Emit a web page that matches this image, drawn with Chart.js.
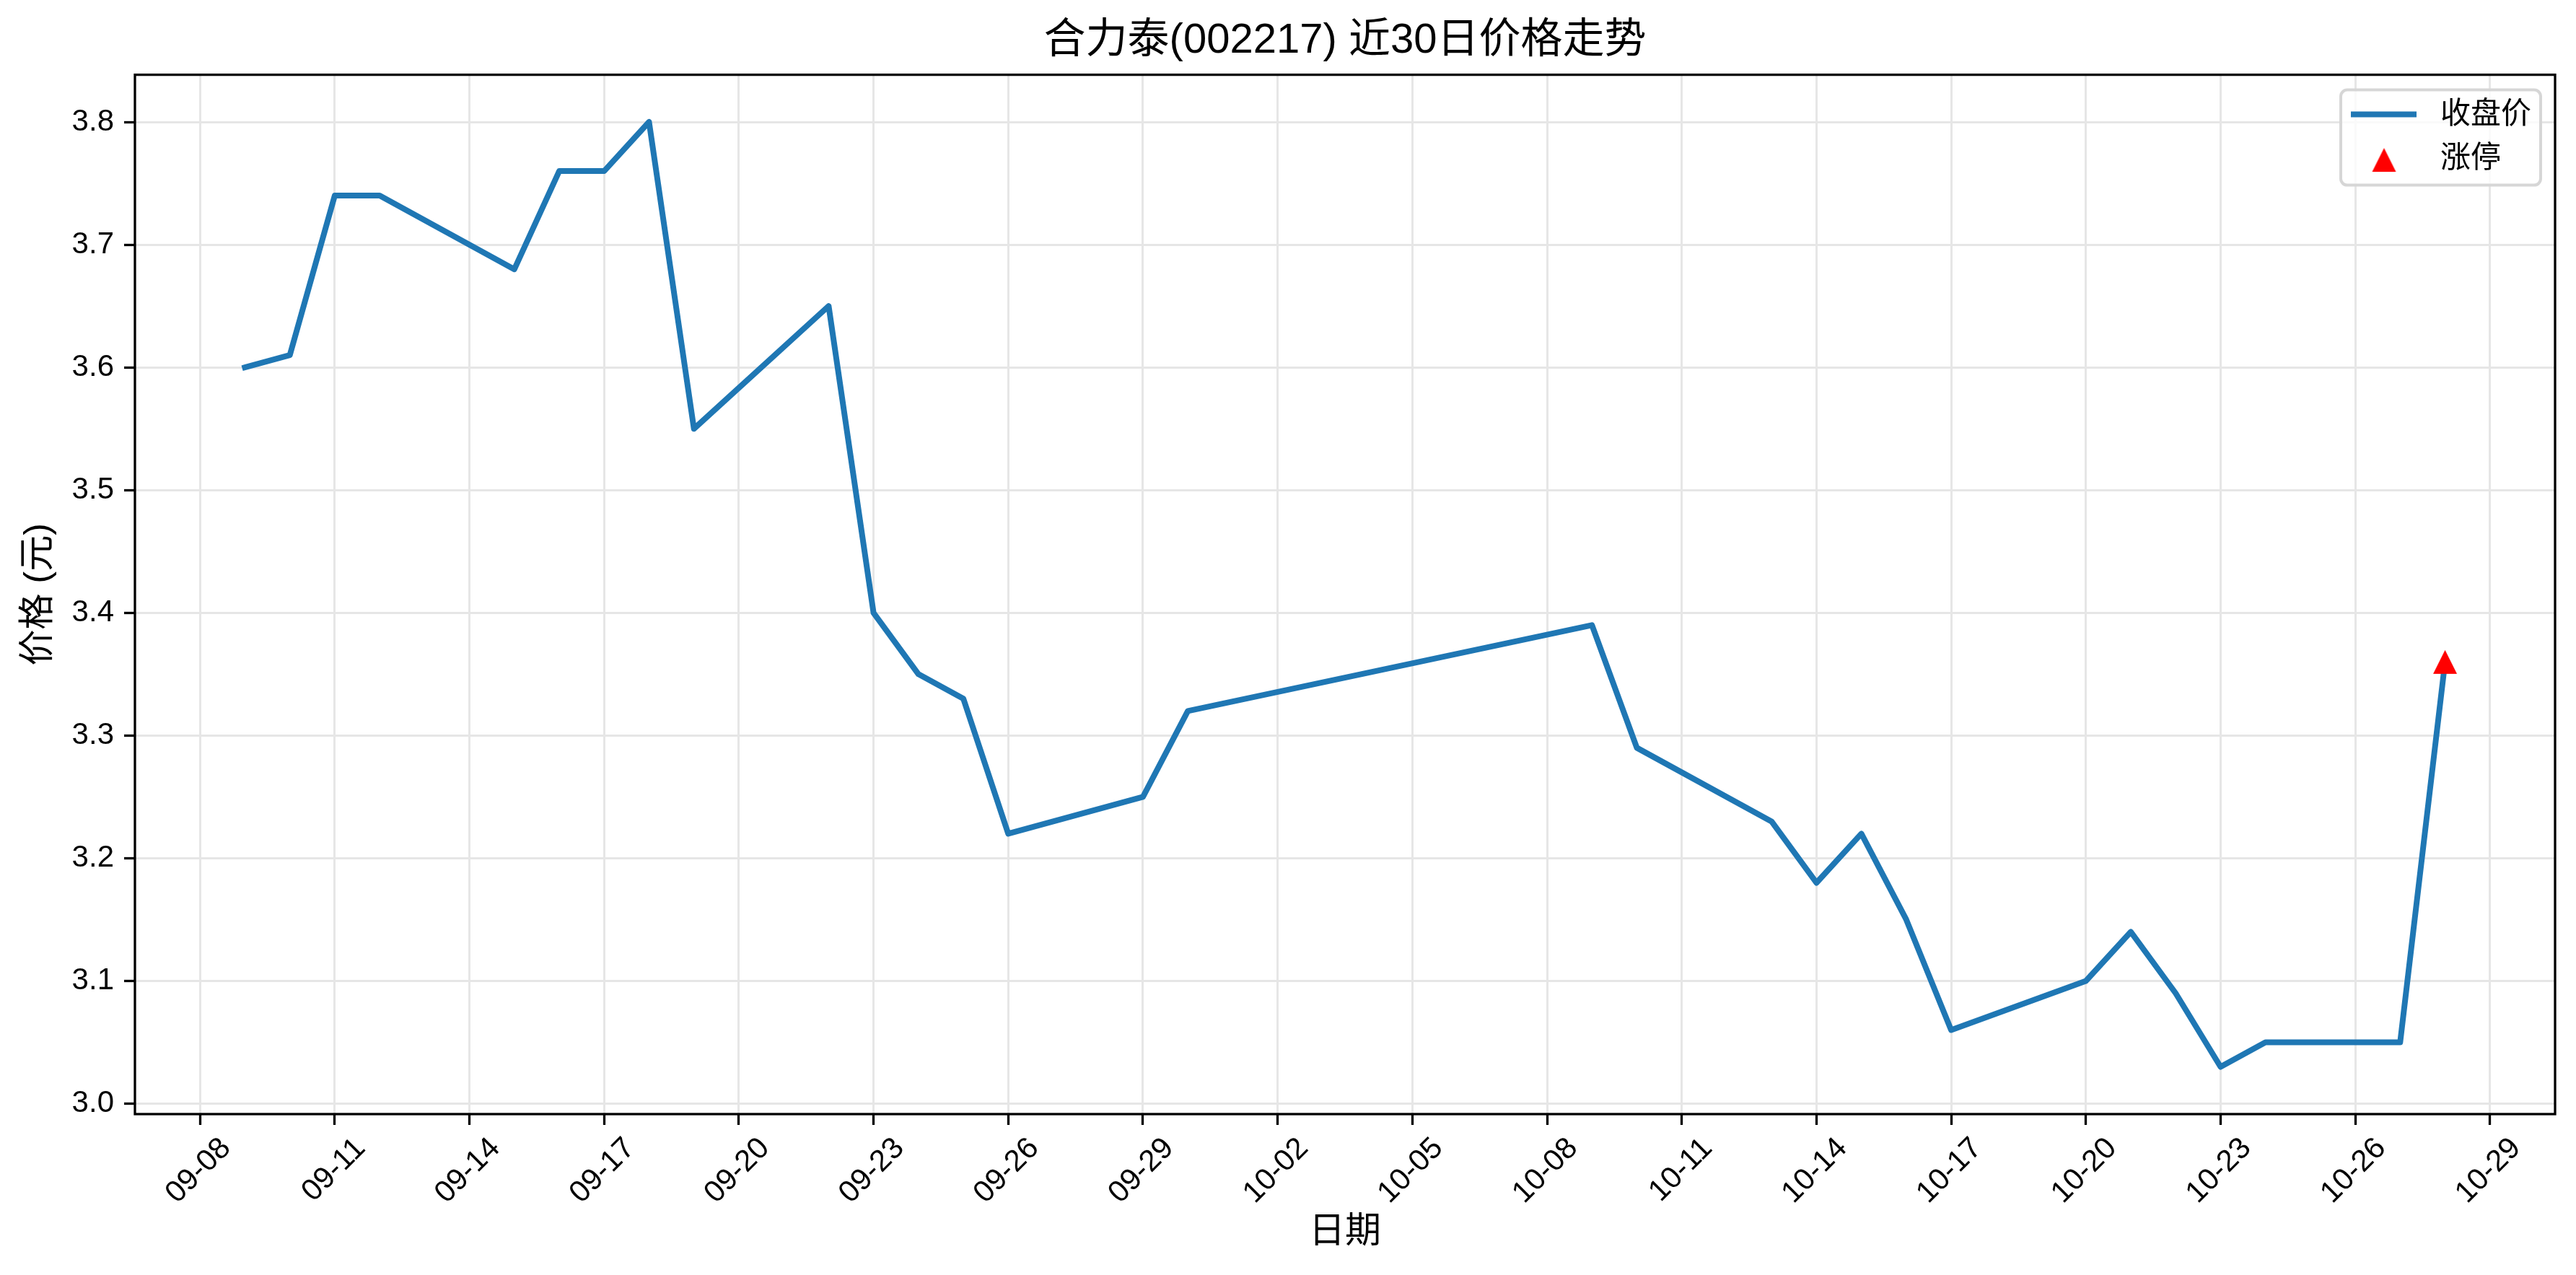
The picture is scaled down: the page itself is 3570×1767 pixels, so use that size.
<!DOCTYPE html>
<html>
<head>
<meta charset="utf-8">
<script src="https://cdn.jsdelivr.net/npm/chart.js@4.4.1/dist/chart.umd.min.js"></script>
<style>
  html, body { margin: 0; padding: 0; background: #fff; }
  #wrap { width: 3570px; height: 1767px; }
</style>
</head>
<body>
<div id="wrap"><canvas id="c" width="3570" height="1767"></canvas></div>
<script>
// 数据
var dates = [
    '2025-09-09', '2025-09-10', '2025-09-11', '2025-09-12', '2025-09-15',
    '2025-09-16', '2025-09-17', '2025-09-18', '2025-09-19', '2025-09-22',
    '2025-09-23', '2025-09-24', '2025-09-25', '2025-09-26', '2025-09-29',
    '2025-09-30', '2025-10-09', '2025-10-10', '2025-10-13', '2025-10-14',
    '2025-10-15', '2025-10-16', '2025-10-17', '2025-10-20', '2025-10-21',
    '2025-10-22', '2025-10-23', '2025-10-24', '2025-10-27', '2025-10-28'
];
var closes = [
    3.60, 3.61, 3.74, 3.74, 3.68,
    3.76, 3.76, 3.80, 3.55, 3.65,
    3.40, 3.35, 3.33, 3.22, 3.25,
    3.32, 3.39, 3.29, 3.23, 3.18,
    3.22, 3.15, 3.06, 3.10, 3.14,
    3.09, 3.03, 3.05, 3.05, 3.36
];
var limitUpDates = ['2025-10-28'];
var limitUpPrices = [3.36];

var xTickStep = 3;      // 每3天一个刻度（从 09-08 起）
var yTickStep = 0.1;

var TITLE = '合力泰(002217) 近30日价格走势';
var X_LABEL = '日期';
var Y_LABEL = '价格 (元)';
var FONT = '"Liberation Sans", Arial, "Noto Sans CJK SC", sans-serif';

var BASE = Date.UTC(2025, 8, 8);
var DAY = 86400000;

function dayNum(s) {
    var p = s.split('-');
    return (Date.UTC(+p[0], +p[1] - 1, +p[2]) - BASE) / DAY;
}
function pad2(n) { return (n < 10 ? '0' : '') + n; }
function dayLabel(v) {
    var d = new Date(BASE + Math.round(v) * DAY);
    return pad2(d.getUTCMonth() + 1) + '-' + pad2(d.getUTCDate());
}

// matplotlib '^' 标记（宽=高）
function makeTriangle(size, color) {
    var c = document.createElement('canvas');
    c.width = size + 2;
    c.height = size + 2;
    var g = c.getContext('2d');
    g.fillStyle = color;
    g.beginPath();
    g.moveTo(1 + size / 2, 1);
    g.lineTo(1 + size, 1 + size);
    g.lineTo(1, 1 + size);
    g.closePath();
    g.fill();
    return c;
}
var triangle = makeTriangle(33, '#ff0000');

var xs = dates.map(dayNum);
var xFirst = xs[0], xLast = xs[xs.length - 1];
var xMargin = (xLast - xFirst) * 0.05;
var yLo = Math.min.apply(null, closes), yHi = Math.max.apply(null, closes);
var yMargin = (yHi - yLo) * 0.05;

var linePts = xs.map(function(x, i) { return { x: x, y: closes[i] }; });
var upPts = limitUpDates.map(function(d, i) { return { x: dayNum(d), y: limitUpPrices[i] }; });

// 边框 + 图例（matplotlib 风格）
var framePlugin = {
    id: 'frameAndLegend',
    afterDraw: function(chart) {
        var ctx = chart.ctx, a = chart.chartArea;
        ctx.save();
        ctx.strokeStyle = '#000';
        ctx.lineWidth = 3.3;
        ctx.strokeRect(a.left, a.top, a.right - a.left, a.bottom - a.top);

        var w = 277, h = 132;
        var x0 = a.right - 20 - w, y0 = a.top + 21;
        var r = 9;
        ctx.beginPath();
        ctx.moveTo(x0 + r, y0);
        ctx.arcTo(x0 + w, y0, x0 + w, y0 + h, r);
        ctx.arcTo(x0 + w, y0 + h, x0, y0 + h, r);
        ctx.arcTo(x0, y0 + h, x0, y0, r);
        ctx.arcTo(x0, y0, x0 + w, y0, r);
        ctx.closePath();
        ctx.fillStyle = 'rgba(255,255,255,0.8)';
        ctx.fill();
        ctx.strokeStyle = '#d6d6d6';
        ctx.lineWidth = 4;
        ctx.stroke();

        var ds = chart.data.datasets;
        // 收盘价
        ctx.strokeStyle = ds[0].borderColor;
        ctx.lineWidth = ds[0].borderWidth;
        ctx.beginPath();
        ctx.moveTo(x0 + 14, y0 + 34);
        ctx.lineTo(x0 + 105, y0 + 34);
        ctx.stroke();
        // 涨停
        ctx.drawImage(ds[1].pointStyle, x0 + 60 - 17.5, y0 + 97 - 17.5);

        ctx.fillStyle = '#000';
        ctx.font = '42px ' + FONT;
        ctx.textBaseline = 'middle';
        ctx.textAlign = 'left';
        ctx.fillText(ds[0].label, x0 + 138, y0 + 35);
        ctx.fillText(ds[1].label, x0 + 138, y0 + 96);
        ctx.restore();
    }
};

new Chart(document.getElementById('c').getContext('2d'), {
    type: 'line',
    data: {
        datasets: [{
            label: '收盘价',
            data: linePts,
            borderColor: '#1f77b4',
            backgroundColor: '#1f77b4',
            borderWidth: 8,
            pointRadius: 0,
            tension: 0,
            fill: false,
            borderJoinStyle: 'round',
            borderCapStyle: 'square',
            order: 1
        }, {
            type: 'scatter',
            label: '涨停',
            data: upPts,
            backgroundColor: '#ff0000',
            borderWidth: 0,
            pointStyle: triangle,
            pointRadius: 18,
            order: 0
        }]
    },
    options: {
        responsive: false,
        animation: false,
        devicePixelRatio: 1,
        layout: { padding: { left: 0, right: 29, top: 0, bottom: 0 } },
        plugins: {
            legend: { display: false },
            tooltip: { enabled: false },
            title: {
                display: true,
                text: TITLE,
                fullSize: false,
                color: '#000',
                font: { family: FONT, size: 58, weight: 'normal' },
                padding: { top: 22, bottom: 12 }
            }
        },
        scales: {
            x: {
                type: 'linear',
                min: xFirst - xMargin,
                max: xLast + xMargin,
                afterFit: function(s) { s.height = 223; },
                border: { display: false },
                grid: {
                    color: '#e6e6e6',
                    lineWidth: 3,
                    tickColor: '#000',
                    tickLength: 15,
                    tickWidth: 3.3
                },
                ticks: {
                    stepSize: xTickStep,
                    includeBounds: false,
                    autoSkip: false,
                    minRotation: 45,
                    maxRotation: 45,
                    padding: 8,
                    labelOffset: 36,
                    color: '#000',
                    font: { family: FONT, size: 42 },
                    callback: function(v) { return dayLabel(v); }
                },
                title: {
                    display: true,
                    text: X_LABEL,
                    color: '#000',
                    font: { family: FONT, size: 50 },
                    padding: { top: 0, bottom: 29 }
                }
            },
            y: {
                type: 'linear',
                min: yLo - yMargin,
                max: yHi + yMargin,
                afterFit: function(s) { s.width = 187; },
                border: { display: false },
                grid: {
                    color: '#e6e6e6',
                    lineWidth: 3,
                    tickColor: '#000',
                    tickLength: 15,
                    tickWidth: 3.3
                },
                ticks: {
                    stepSize: yTickStep,
                    includeBounds: false,
                    padding: 14,
                    color: '#000',
                    font: { family: FONT, size: 42 },
                    callback: function(v) { return v.toFixed(1); }
                },
                title: {
                    display: true,
                    text: Y_LABEL,
                    color: '#000',
                    font: { family: FONT, size: 50 },
                    padding: { top: 24, bottom: 0 }
                }
            }
        }
    },
    plugins: [framePlugin]
});
</script>
</body>
</html>
